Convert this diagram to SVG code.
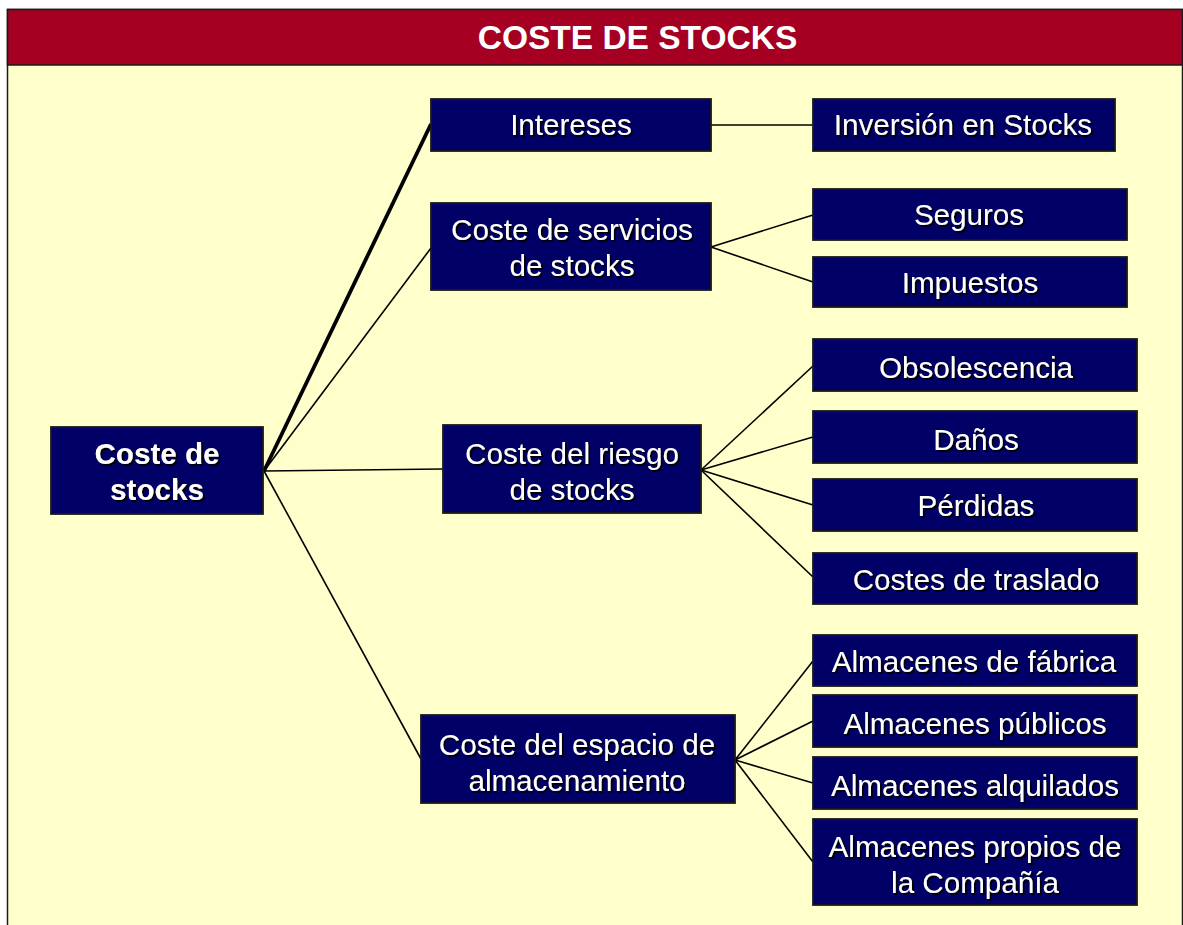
<svg xmlns="http://www.w3.org/2000/svg" width="1183" height="925" viewBox="0 0 1183 925">
<defs>
<filter id="sh" x="-5%" y="-5%" width="110%" height="120%">
<feDropShadow dx="1.8" dy="1.8" stdDeviation="0.3" flood-color="#000000" flood-opacity="1"/>
</filter>
</defs>
<style>
.box{fill:#000066;stroke:#1a1a1a;stroke-width:1.8}
.t{font-family:"Liberation Sans",Arial,sans-serif;font-size:29.6px;fill:#ffffff;text-anchor:middle;filter:url(#sh)}
.b{font-weight:bold}
.ln{stroke:#000000;stroke-width:1.6;fill:none}
.thick{stroke-width:3.8}
</style>
<rect x="0" y="0" width="1183" height="925" fill="#ffffff"/>
<rect x="7.5" y="9.5" width="1175" height="930" fill="#FFFFCC" stroke="#1a1a1a" stroke-width="1.5"/>
<g id="title">
<rect x="7.5" y="9.5" width="1175" height="55.5" fill="#A50021" stroke="#1a1a1a" stroke-width="1.5"/>
<text x="637.5" y="49" font-family="Liberation Sans, Arial, sans-serif" font-size="33.5" font-weight="bold" fill="#ffffff" text-anchor="middle">COSTE DE STOCKS</text>
</g>
<g id="connectors">
<line class="ln thick" x1="264" y1="471" x2="431" y2="124"/>
<line class="ln" x1="264" y1="471" x2="431" y2="248"/>
<line class="ln" x1="264" y1="471" x2="443" y2="469"/>
<line class="ln" x1="264" y1="471" x2="421" y2="759"/>
<line class="ln" x1="711" y1="125" x2="813" y2="125"/>
<line class="ln" x1="711" y1="247" x2="813" y2="215"/>
<line class="ln" x1="711" y1="247" x2="813" y2="282"/>
<line class="ln" x1="701" y1="470" x2="813" y2="366"/>
<line class="ln" x1="701" y1="470" x2="813" y2="437"/>
<line class="ln" x1="701" y1="470" x2="813" y2="505"/>
<line class="ln" x1="701" y1="470" x2="813" y2="577"/>
<line class="ln" x1="735" y1="760" x2="813" y2="661"/>
<line class="ln" x1="735" y1="760" x2="813" y2="721"/>
<line class="ln" x1="735" y1="760" x2="813" y2="783"/>
<line class="ln" x1="735" y1="760" x2="813" y2="862"/>
</g>
<g id="n-root">
<rect class="box" x="51" y="427" width="212" height="87"/>
<text class="t b" x="157" y="464">Coste de</text>
<text class="t b" x="157" y="500">stocks</text>
</g>
<g id="n-intereses">
<rect class="box" x="431" y="99" width="280" height="52"/>
<text class="t" x="571" y="135">Intereses</text>
</g>
<g id="n-servicios">
<rect class="box" x="431" y="203" width="280" height="87"/>
<text class="t" x="572" y="240">Coste de servicios</text>
<text class="t" x="572" y="276">de stocks</text>
</g>
<g id="n-riesgo">
<rect class="box" x="443" y="425" width="258" height="88"/>
<text class="t" x="572" y="464">Coste del riesgo</text>
<text class="t" x="572" y="500">de stocks</text>
</g>
<g id="n-espacio">
<rect class="box" x="421" y="715" width="314" height="88"/>
<text class="t" x="577" y="755">Coste del espacio de</text>
<text class="t" x="577" y="791">almacenamiento</text>
</g>
<g id="n-inversion">
<rect class="box" x="813" y="99" width="302" height="52"/>
<text class="t" x="963" y="135">Inversión en Stocks</text>
</g>
<g id="n-seguros">
<rect class="box" x="813" y="189" width="314" height="51"/>
<text class="t" x="969" y="225">Seguros</text>
</g>
<g id="n-impuestos">
<rect class="box" x="813" y="257" width="314" height="50"/>
<text class="t" x="970" y="293">Impuestos</text>
</g>
<g id="n-obsolescencia">
<rect class="box" x="813" y="339" width="324" height="52"/>
<text class="t" x="976" y="378">Obsolescencia</text>
</g>
<g id="n-danos">
<rect class="box" x="813" y="411" width="324" height="52"/>
<text class="t" x="976" y="450">Daños</text>
</g>
<g id="n-perdidas">
<rect class="box" x="813" y="479" width="324" height="52"/>
<text class="t" x="976" y="516">Pérdidas</text>
</g>
<g id="n-traslado">
<rect class="box" x="813" y="553" width="324" height="51"/>
<text class="t" x="976" y="590">Costes de traslado</text>
</g>
<g id="n-fabrica">
<rect class="box" x="813" y="635" width="324" height="51"/>
<text class="t" x="974" y="672">Almacenes de fábrica</text>
</g>
<g id="n-publicos">
<rect class="box" x="813" y="695" width="324" height="52"/>
<text class="t" x="975" y="734">Almacenes públicos</text>
</g>
<g id="n-alquilados">
<rect class="box" x="813" y="757" width="324" height="52"/>
<text class="t" x="975" y="796">Almacenes alquilados</text>
</g>
<g id="n-propios">
<rect class="box" x="813" y="819" width="324" height="86"/>
<text class="t" x="975" y="857">Almacenes propios de</text>
<text class="t" x="975" y="893">la Compañía</text>
</g>
</svg>
